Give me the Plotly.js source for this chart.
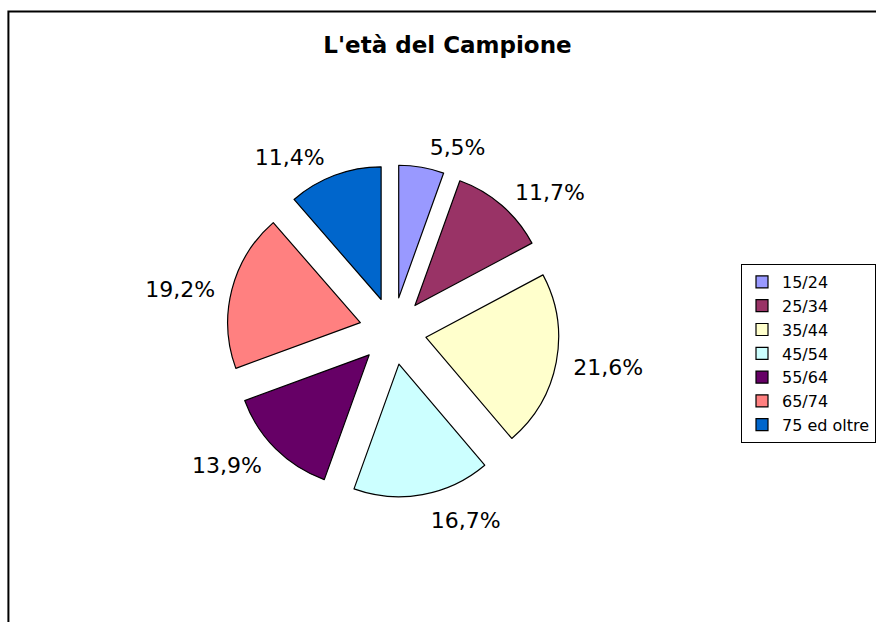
<!DOCTYPE html>
<html>
<head>
<meta charset="utf-8">
<script src="https://cdn.plot.ly/plotly-3.0.1.min.js"></script>
<style>
  html, body { margin: 0; padding: 0; background: #ffffff; }
  #chart { width: 876px; height: 622px; }
</style>
</head>
<body>
<div id="chart"></div>
<script>
const titleText = "L'età del Campione";
const categories = ["15/24", "25/34", "35/44", "45/54", "55/64", "65/74", "75 ed oltre"];
const values = [5.5, 11.7, 21.6, 16.7, 13.9, 19.2, 11.4];
const colors = ["#9999FF", "#993366", "#FFFFCC", "#CCFFFF", "#660066", "#FF8080", "#0066CC"];

const W = 876, H = 622;
const cx = 397, cy = 331, r = 134, pullPx = 34;

function domainFor(radius, ccx, ccy) {
  const p = pullPx / radius;
  const half = radius * (1 + p);
  return {
    pull: p,
    domain: {
      x: [(ccx - half) / W, (ccx + half) / W],
      y: [1 - (ccy + half) / H, 1 - (ccy - half) / H]
    }
  };
}

const main = domainFor(r, cx, cy);
const lab = domainFor(r + 11, cx, cy + 3);

const pieTrace = {
  type: "pie",
  labels: categories,
  values: values,
  sort: false,
  direction: "clockwise",
  rotation: 0,
  pull: main.pull,
  marker: { colors: colors, line: { color: "#000000", width: 1.2 } },
  textinfo: "none",
  hoverinfo: "skip",
  domain: main.domain
};

// transparent copy of the same pie, slightly larger, used only to place the percentage labels
const labelTrace = {
  type: "pie",
  labels: categories,
  values: values,
  sort: false,
  direction: "clockwise",
  rotation: 0,
  pull: lab.pull,
  marker: { colors: categories.map(() => "rgba(0,0,0,0)"), line: { width: 0 } },
  textposition: "outside",
  texttemplate: "%{percent:.1%}",
  outsidetextfont: { family: "DejaVu Sans", size: 22, color: "#000000" },
  hoverinfo: "skip",
  showlegend: false,
  domain: lab.domain
};

const layout = {
  width: W,
  height: H,
  separators: ",.",
  margin: { l: 0, r: 0, t: 0, b: 0 },
  paper_bgcolor: "#ffffff",
  plot_bgcolor: "#ffffff",
  font: { family: "DejaVu Sans", color: "#000000" },
  title: {
    text: "<b>" + titleText + "</b>",
    font: { family: "DejaVu Sans", size: 23, color: "#000000" },
    xref: "container", yref: "container",
    x: 447.5 / W, xanchor: "center",
    y: 1 - 45 / H, yanchor: "middle"
  },
  showlegend: true,
  legend: {
    x: 749 / W, xanchor: "left",
    y: 1 - 264 / H, yanchor: "top",
    bordercolor: "#000000", borderwidth: 1,
    bgcolor: "#ffffff",
    font: { family: "DejaVu Sans", size: 16, color: "#000000" },
    tracegroupgap: 0,
    itemwidth: 30
  },
  shapes: [{
    type: "rect", xref: "paper", yref: "paper",
    x0: 8.5 / W, x1: 1.02, y0: -0.02, y1: 1 - 11.5 / H,
    line: { color: "#000000", width: 2 }, fillcolor: "rgba(0,0,0,0)", layer: "below"
  }]
};

Plotly.newPlot("chart", [pieTrace, labelTrace], layout, { displayModeBar: false, staticPlot: true });
</script>
</body>
</html>
